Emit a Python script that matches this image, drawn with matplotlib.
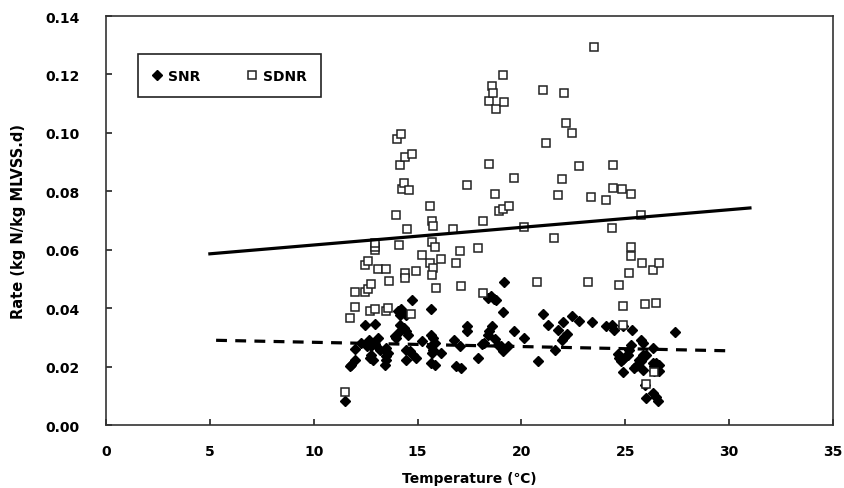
import matplotlib
matplotlib.use("Agg")
from matplotlib import pyplot as plt
from matplotlib.lines import Line2D

plt.rcParams['font.family'] = ['DejaVu Sans']
plt.rcParams['font.weight'] = 'bold'

# SNR (specific nitrification rate) - filled diamonds
snr_temp = [11.52, 11.73, 11.81, 11.97, 11.97, 12.29, 12.49, 12.56, 12.64, 12.69,
            12.77, 12.77, 12.85, 12.93, 12.97, 13.09, 13.17, 13.41, 13.46, 13.46,
            13.49, 13.57, 13.89, 13.97, 14.05, 14.13, 14.13, 14.17, 14.18, 14.22,
            14.33, 14.42, 14.45, 14.45, 14.45, 14.53, 14.62, 14.74, 14.78, 14.90,
            15.23, 15.63, 15.66, 15.66, 15.66, 15.71, 15.74, 15.74, 15.82, 15.82,
            16.14, 16.73, 16.86, 17.02, 17.10, 17.39, 17.39, 17.90, 18.11, 18.22,
            18.38, 18.38, 18.46, 18.54, 18.59, 18.70, 18.73, 18.78, 18.89, 19.02,
            19.10, 19.10, 19.18, 19.34, 19.66, 20.11, 20.78, 21.06, 21.26, 21.62,
            21.78, 21.96, 22.02, 22.07, 22.18, 22.44, 22.76, 23.38, 24.07, 24.36,
            24.47, 24.63, 24.68, 24.79, 24.90, 24.90, 24.90, 25.03, 25.11, 25.19,
            25.27, 25.30, 25.43, 25.51, 25.64, 25.75, 25.75, 25.83, 25.83, 25.83,
            25.95, 25.99, 25.99, 26.31, 26.31, 26.35, 26.39, 26.39, 26.47, 26.50,
            26.59, 26.63, 26.63, 27.40]
snr_rate = [0.0081, 0.0203, 0.0207, 0.0224, 0.0261, 0.0281, 0.0341, 0.0269, 0.0290, 0.0230,
            0.0241, 0.0269, 0.0224, 0.0279, 0.0347, 0.0298, 0.0258, 0.0207, 0.0224, 0.0262,
            0.0235, 0.0247, 0.0304, 0.0298, 0.0391, 0.0378, 0.0323, 0.0344, 0.0397, 0.0384,
            0.0332, 0.0224, 0.0378, 0.0321, 0.0258, 0.0309, 0.0252, 0.0427, 0.0241, 0.0230,
            0.0287, 0.0398, 0.0309, 0.0269, 0.0213, 0.0247, 0.0298, 0.0258, 0.0281, 0.0207,
            0.0247, 0.0292, 0.0201, 0.0269, 0.0196, 0.0338, 0.0321, 0.0230, 0.0277, 0.0281,
            0.0309, 0.0435, 0.0321, 0.0440, 0.0338, 0.0431, 0.0295, 0.0429, 0.0275, 0.0269,
            0.0386, 0.0252, 0.0488, 0.0269, 0.0321, 0.0298, 0.0218, 0.0381, 0.0341, 0.0258,
            0.0324, 0.0292, 0.0351, 0.0302, 0.0313, 0.0374, 0.0355, 0.0351, 0.0340, 0.0344,
            0.0326, 0.0244, 0.0230, 0.0218, 0.0340, 0.0226, 0.0182, 0.0235, 0.0241, 0.0258,
            0.0275, 0.0324, 0.0196, 0.0201, 0.0224, 0.0292, 0.0218, 0.0281, 0.0238, 0.0190,
            0.0138, 0.0241, 0.0093, 0.0264, 0.0213, 0.0108, 0.0201, 0.0184, 0.0096, 0.0213,
            0.0081, 0.0207, 0.0184, 0.0317]

# SDNR (specific denitrification rate) - open squares
sdnr_temp = [11.52, 11.76, 11.97, 11.97, 12.49, 12.63, 12.77, 12.49, 12.63, 12.69,
             12.97, 12.97, 12.97, 12.97, 13.09, 13.49, 13.49, 13.59, 13.62, 13.96,
             14.02, 14.21, 14.09, 14.15, 14.26, 14.34, 14.41, 14.57, 14.74, 14.49,
             14.41, 14.41, 14.70, 14.92, 15.21, 15.61, 15.74, 15.67, 15.87, 15.61,
             15.67, 15.74, 15.67, 15.82, 16.15, 16.72, 16.86, 17.02, 17.07, 17.37,
             17.93, 18.13, 18.17, 18.46, 18.46, 18.59, 18.65, 18.78, 19.18, 19.10,
             18.72, 18.91, 19.10, 19.39, 19.65, 20.10, 20.77, 21.04, 21.19, 21.57,
             21.76, 21.96, 22.04, 22.16, 22.42, 22.76, 23.22, 23.35, 23.49, 24.09,
             24.36, 24.42, 24.42, 24.70, 24.82, 24.89, 24.89, 25.16, 25.27, 25.29,
             25.29, 25.77, 25.78, 25.95, 26.33, 26.49, 26.63, 26.39, 26.01]
sdnr_rate = [0.0113, 0.0366, 0.0404, 0.0455, 0.0455, 0.0466, 0.0484, 0.0548, 0.0563, 0.0390,
             0.0396, 0.0599, 0.0611, 0.0623, 0.0534, 0.0534, 0.0391, 0.0402, 0.0493, 0.0720,
             0.0978, 0.0997, 0.0615, 0.0889, 0.0807, 0.0829, 0.0917, 0.0803, 0.0926, 0.0672,
             0.0519, 0.0504, 0.0380, 0.0528, 0.0582, 0.0555, 0.0538, 0.0515, 0.0470, 0.0751,
             0.0698, 0.0680, 0.0626, 0.0611, 0.0568, 0.0672, 0.0553, 0.0597, 0.0475, 0.0821,
             0.0606, 0.0451, 0.0700, 0.0893, 0.1110, 0.1161, 0.1138, 0.1082, 0.1105, 0.1198,
             0.0790, 0.0734, 0.0739, 0.0751, 0.0846, 0.0678, 0.0488, 0.1147, 0.0967, 0.0640,
             0.0786, 0.0842, 0.1138, 0.1034, 0.1001, 0.0885, 0.0488, 0.0781, 0.1293, 0.0770,
             0.0676, 0.0890, 0.0813, 0.0479, 0.0807, 0.0407, 0.0343, 0.0520, 0.0579, 0.0790,
             0.0611, 0.0720, 0.0553, 0.0413, 0.0529, 0.0416, 0.0553, 0.0182, 0.0141]

# Trend lines (end points)
sdnr_fit_x = [5.0, 31.0]
sdnr_fit_y = [0.0586, 0.0743]
snr_fit_x = [5.3, 30.0]
snr_fit_y = [0.0290, 0.0254]

x_ticks = [0, 5, 10, 15, 20, 25, 30, 35]
y_ticks = [0.00, 0.02, 0.04, 0.06, 0.08, 0.10, 0.12, 0.14]

fig = plt.figure(figsize=(8.44, 4.89), dpi=100)
ax = fig.add_axes([0.1256, 0.1288, 0.8614, 0.8364])

ax.plot(snr_temp, snr_rate, linestyle='none', marker='D', markersize=4.6,
        color='black', zorder=2)
ax.plot(sdnr_temp, sdnr_rate, linestyle='none', marker='s', markersize=5.8,
        markerfacecolor='white', markeredgecolor='#222222', markeredgewidth=1.1, zorder=2)

ax.plot(sdnr_fit_x, sdnr_fit_y, color='black', linewidth=2.3, zorder=3)
ax.plot(snr_fit_x, snr_fit_y, color='black', linewidth=2.3, linestyle=(0, (3.4, 2.6)), zorder=3)

ax.set_xlim(0, 35)
ax.set_ylim(0, 0.14)
ax.set_xticks(x_ticks)
ax.set_yticks(y_ticks)
ax.set_xticklabels([str(t) for t in x_ticks])
ax.set_yticklabels([f"{t:.2f}" for t in y_ticks])
ax.tick_params(direction='in', length=4, width=1.2, labelsize=10, color='#222222')
ax.tick_params(axis='x', pad=14)
ax.tick_params(axis='y', pad=19)
ax.tick_params(top=False, right=False)
for s in ax.spines.values():
    s.set_linewidth(1.2)
    s.set_color('#333333')

ax.set_xlabel("Temperature (\u2103)", fontsize=10, fontweight='bold', labelpad=9)
ax.set_ylabel("Rate (kg N/kg MLVSS.d)", fontsize=10.5, fontweight='bold', labelpad=14)

handles = [Line2D([], [], linestyle='none', marker='D', markersize=4.6, color='black'),
           Line2D([], [], linestyle='none', marker='s', markersize=5.8,
                  markerfacecolor='white', markeredgecolor='#222222', markeredgewidth=1.1)]
leg = ax.legend(handles, ['SNR', 'SDNR'], ncol=2, loc='upper left',
                bbox_to_anchor=(0.044, 0.907), fancybox=False, shadow=False,
                framealpha=1, edgecolor='#222222', fontsize=10,
                handlelength=0.6, handletextpad=0.5, columnspacing=3.4,
                borderpad=1.05, borderaxespad=0.0)
leg.get_frame().set_linewidth(1.2)

fig.savefig("out.png", dpi=100)
